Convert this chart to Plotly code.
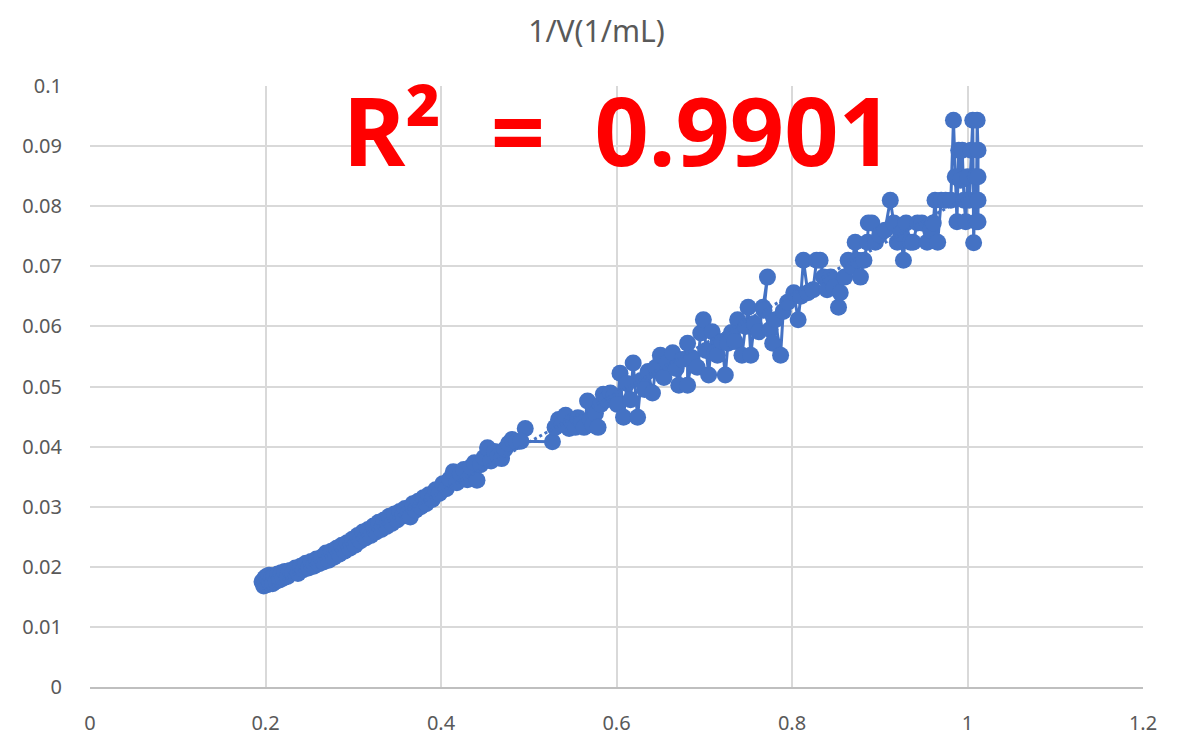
import numpy as np
import plotly.graph_objects as go

# ---- data ----
x_a = [0.196,0.198,0.199,0.200,0.201,0.202,0.203,0.204,0.205,0.207,0.208,0.210,0.212,0.214,0.216,0.218,0.220,0.222,0.225,0.228]
y_a = [0.0175,0.0168,0.0181,0.0171,0.0184,0.0170,0.0179,0.0186,0.0173,0.0182,0.0172,0.0185,0.0176,0.0188,0.0178,0.0190,0.0181,0.0192,0.0184,0.0194]

x_b = [0.231,0.234,0.237,0.240,0.243,0.246,0.249,0.252,0.255,0.258,0.261,0.264,0.266,0.269,0.272,0.275,0.278,0.281,0.284,0.287,
       0.290,0.293,0.296,0.299,0.302,0.305,0.308,0.311,0.314,0.317,0.320,0.323,0.326,0.329,0.332,0.335,0.338,0.341,0.344,0.347,
       0.350,0.353,0.356,0.359,0.362,0.365,0.368,0.371,0.374,0.377,0.380,0.383,0.386,0.390,0.394,0.398]
y_b = [0.0190,0.0198,0.0189,0.0201,0.0195,0.0206,0.0198,0.0209,0.0201,0.0213,0.0205,0.0216,0.0208,0.0223,0.0211,0.0226,0.0216,0.0231,0.0221,0.0236,
       0.0226,0.0240,0.0231,0.0246,0.0236,0.0252,0.0243,0.0258,0.0248,0.0262,0.0252,0.0268,0.0258,0.0274,0.0262,0.0278,0.0267,0.0284,0.0272,0.0288,
       0.0278,0.0292,0.0284,0.0297,0.0288,0.0283,0.0305,0.0294,0.0309,0.0300,0.0315,0.0305,0.0320,0.0312,0.0328,0.0322]

x_c = [0.402,0.406,0.410,0.414,0.418,0.422,0.426,0.430,0.434,0.438,0.441,0.445,0.449,0.453,0.457,0.461,0.465,0.469,0.473,0.477,0.481,0.486,0.496,0.491]
y_c = [0.0338,0.0330,0.0346,0.0358,0.0340,0.0355,0.0362,0.0345,0.0366,0.0373,0.0344,0.0370,0.0382,0.0398,0.0376,0.0392,0.0384,0.0380,0.0396,0.0405,0.0412,0.0408,0.0430,0.0409]

x_d = [0.527,0.530,0.534,0.538,0.542,0.546,0.549,0.553,0.556,0.560,0.563,0.567,0.570,0.573,0.576,0.579,0.582,0.585,0.589,0.593,0.597]
y_d = [0.0408,0.0432,0.0445,0.0437,0.0452,0.0430,0.0441,0.0432,0.0448,0.0440,0.0432,0.0476,0.0445,0.0436,0.0455,0.0432,0.0470,0.0487,0.0478,0.0489,0.0484]

x_e = [0.601,0.604,0.608,0.612,0.616,0.619,0.624,0.628,0.632,0.636,0.641,0.645,0.650,0.654,0.658,0.664,0.668,0.671,0.675,0.681,
       0.681,0.686,0.692,0.696,0.699,0.702,0.705,0.709,0.712,0.715,0.720,0.724,0.727,0.731,0.735,0.738,0.743,0.747,0.750,0.753,
       0.757,0.762,0.767,0.772,0.768,0.775,0.778,0.781,0.787,0.790]
y_e = [0.0470,0.0522,0.0449,0.0505,0.0478,0.0539,0.0449,0.0510,0.0495,0.0525,0.0489,0.0532,0.0552,0.0515,0.0540,0.0556,0.0530,0.0502,0.0545,0.0572,
       0.0502,0.0548,0.0532,0.0589,0.0611,0.0560,0.0519,0.0591,0.0556,0.0552,0.0575,0.0519,0.0572,0.0590,0.0575,0.0611,0.0552,0.0600,0.0632,0.0552,
       0.0605,0.0591,0.0632,0.0682,0.0627,0.0595,0.0572,0.0611,0.0552,0.0625]

x_f = [0.795,0.802,0.807,0.810,0.813,0.818,0.824,0.828,0.832,0.836,0.840,0.844,0.848,0.853,0.855,0.860,0.864,0.868,0.872,0.875,
       0.878,0.882,0.886,0.887,0.891,0.895,0.900,0.906,0.912,0.916,0.920,0.924,0.927,0.930,0.935,0.938,0.943,0.948,0.954,0.958,
       0.961,0.963,0.966,0.970,0.975,0.981,0.984,0.986,0.988,0.990,0.992,0.994,0.996,0.998,1.000,1.002,1.004,1.006,1.007,1.009,
       1.010,1.011,1.012,1.012,1.012,1.012]
y_f = [0.0640,0.0656,0.0611,0.0650,0.0710,0.0656,0.0661,0.0710,0.0710,0.0682,0.0661,0.0682,0.0665,0.0632,0.0656,0.0682,0.0710,0.0700,0.0740,0.0710,
       0.0682,0.0710,0.0740,0.0772,0.0772,0.0740,0.0752,0.0760,0.0810,0.0772,0.0740,0.0755,0.0710,0.0772,0.0740,0.0740,0.0772,0.0772,0.0740,0.0760,
       0.0772,0.0810,0.0740,0.0810,0.0810,0.0810,0.0943,0.0849,0.0774,0.0893,0.0843,0.0893,0.0810,0.0774,0.0849,0.0810,0.0893,0.0943,0.0739,0.0849,
       0.0774,0.0943,0.0893,0.0810,0.0849,0.0774]

x_vals = x_a + x_b + x_c + x_d + x_e + x_f
y_vals = y_a + y_b + y_c + y_d + y_e + y_f

chart_title = "1/V(1/mL)"
r2_text = "R² = 0.9901"
x_ticks = [0, 0.2, 0.4, 0.6, 0.8, 1, 1.2]
y_ticks = [0, 0.01, 0.02, 0.03, 0.04, 0.05, 0.06, 0.07, 0.08, 0.09, 0.1]

BLUE = "#4472C4"
GRAY = "#595959"
GRID = "#D9D9D9"

# linear trendline
slope, intercept = np.polyfit(x_vals, y_vals, 1)
tx = [min(x_vals), max(x_vals)]
ty = [slope * v + intercept for v in tx]

fig = go.Figure()
fig.add_trace(go.Scatter(
    x=x_vals, y=y_vals, mode="lines+markers",
    line=dict(color=BLUE, width=3),
    marker=dict(color=BLUE, size=17),
    showlegend=False, hoverinfo="x+y"))
fig.add_trace(go.Scatter(
    x=tx, y=ty, mode="lines",
    line=dict(color=BLUE, width=3, dash="dot"),
    showlegend=False, hoverinfo="skip"))

# the page body adds an 8px offset, so the figure is 8px smaller than the window
fig.update_layout(
    width=1177, height=728,
    paper_bgcolor="white", plot_bgcolor="white",
    margin=dict(l=82, r=42, t=78, b=49),
    font=dict(family="Noto Sans, Open Sans, sans-serif", color=GRAY, size=20),
    title=dict(text=chart_title, x=0.5, xanchor="center", y=0.968, yanchor="middle",
               font=dict(size=30, color=GRAY), automargin=False),
    xaxis=dict(range=[0, 1.2], tickvals=x_ticks, ticktext=[str(v) for v in x_ticks],
               showgrid=True, gridcolor=GRID, gridwidth=1.5,
               showline=True, linecolor="#BFBFBF", linewidth=1.5,
               zeroline=False, ticks="", ticklabelstandoff=17, automargin=False,
               tickfont=dict(size=20, color=GRAY)),
    yaxis=dict(range=[0, 0.1], tickvals=y_ticks, ticktext=[str(v) for v in y_ticks],
               showgrid=True, gridcolor=GRID, gridwidth=1.5,
               showline=False, zeroline=False, ticks="", ticklabelstandoff=27, automargin=False,
               tickfont=dict(size=20, color=GRAY)),
    annotations=[dict(text="<b>" + r2_text.replace(" ", "&nbsp;&nbsp;") + "</b>",
                      x=0.501, y=0.929, xref="paper", yref="paper",
                      xanchor="center", yanchor="middle", showarrow=False,
                      font=dict(size=95, color="#FF0000", family="Noto Sans, sans-serif"))],
)

fig.write_html("out.html")
